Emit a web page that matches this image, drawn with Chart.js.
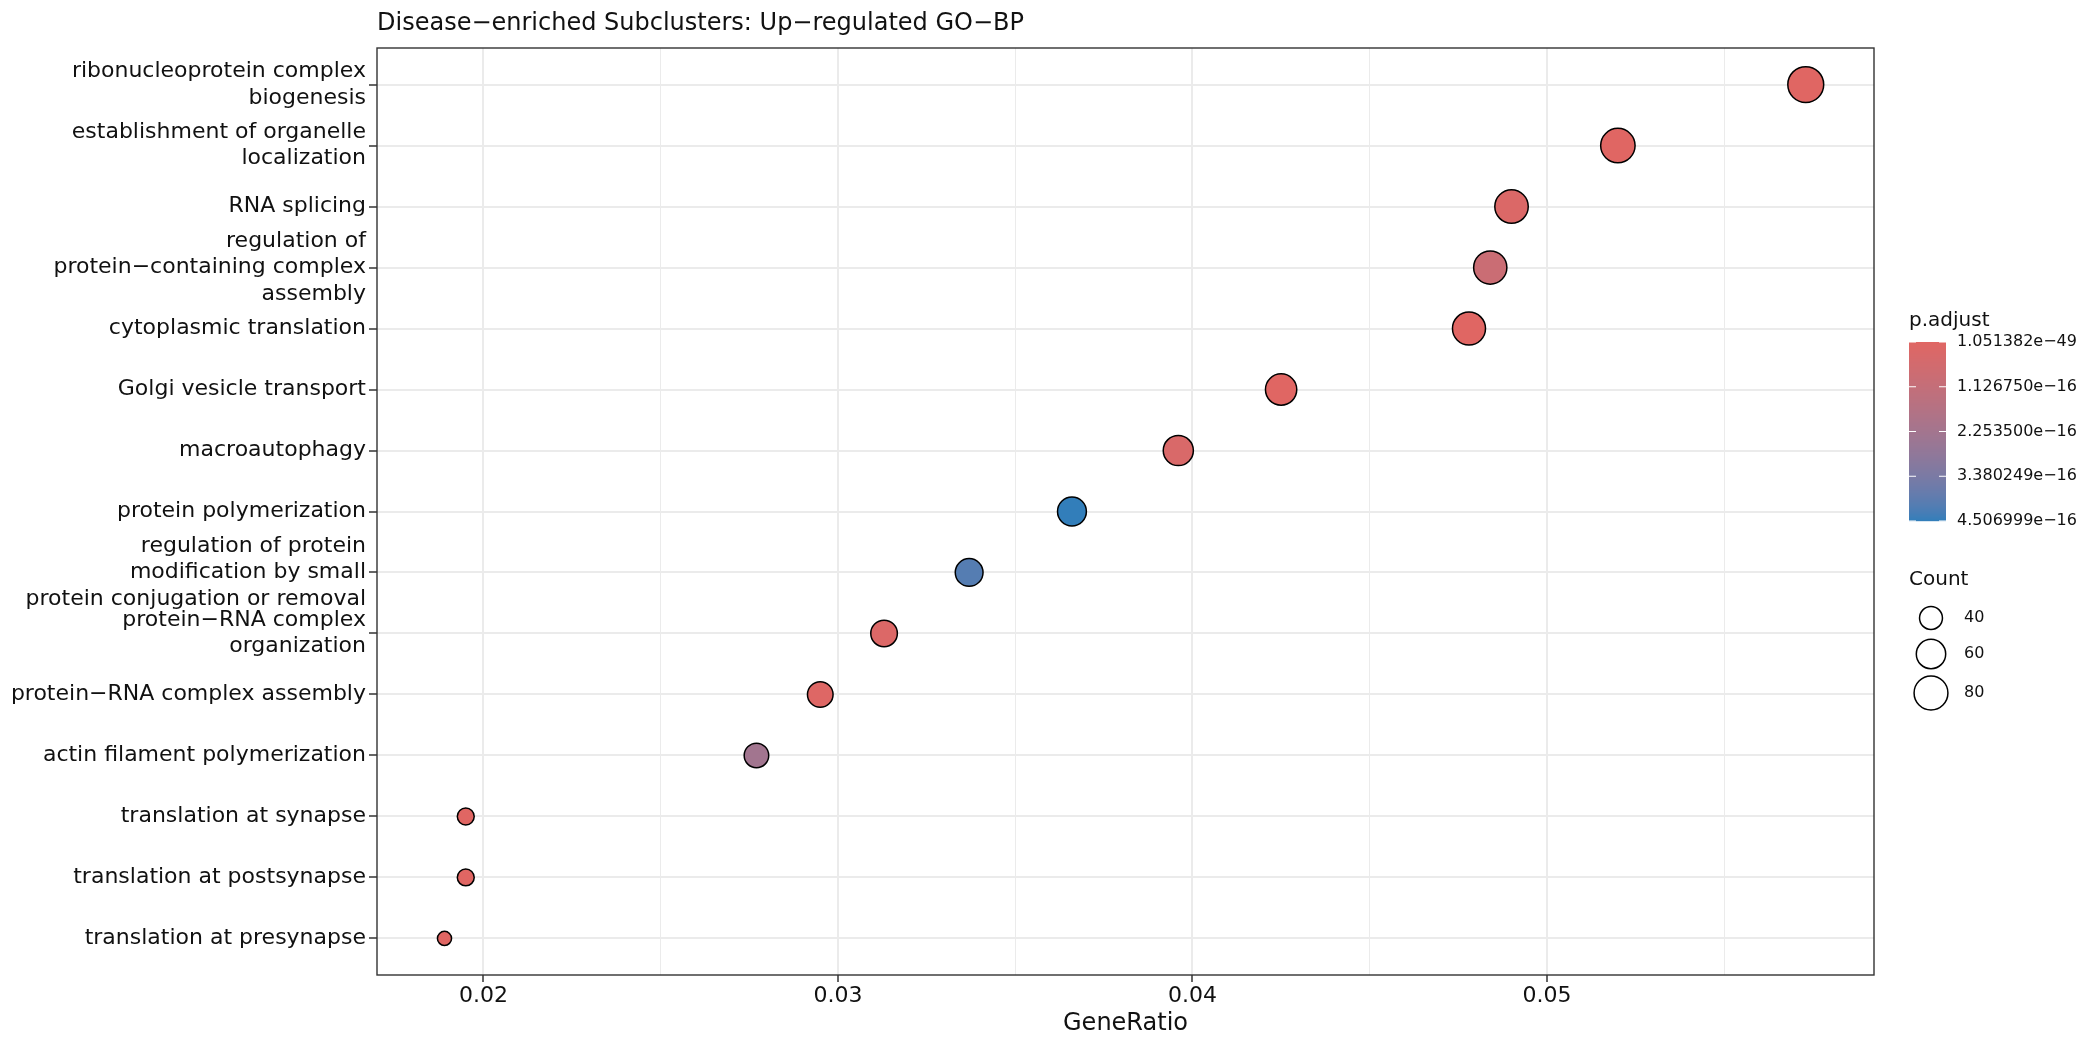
<!DOCTYPE html>
<html>
<head>
<meta charset="utf-8">
<script src="https://cdn.jsdelivr.net/npm/chart.js@4.4.1/dist/chart.umd.min.js"></script>
<style>
  html, body { margin: 0; padding: 0; background: #fff; }
  #myChart { display: block; }
</style>
</head>
<body>
<canvas id="myChart" width="2100" height="1050"></canvas>
<script>
// GO-BP terms, top to bottom
var terms = [
    'ribonucleoprotein complex\nbiogenesis',
    'establishment of organelle\nlocalization',
    'RNA splicing',
    'regulation of\nprotein\u2212containing complex\nassembly',
    'cytoplasmic translation',
    'Golgi vesicle transport',
    'macroautophagy',
    'protein polymerization',
    'regulation of protein\nmodification by small\nprotein conjugation or removal',
    'protein\u2212RNA complex\norganization',
    'protein\u2212RNA complex assembly',
    'actin filament polymerization',
    'translation at synapse',
    'translation at postsynapse',
    'translation at presynapse'
];
var geneRatio = [0.0573, 0.0520, 0.0490, 0.0484, 0.0478, 0.0425, 0.0396, 0.0366, 0.0337, 0.0313, 0.0295, 0.0277, 0.0195, 0.0195, 0.0189];
var counts = [91, 83, 78, 77, 76, 68, 63, 58, 54, 50, 47, 44, 31, 31, 30];
var pAdjust = [1.2e-45, 3.0e-24, 2.2e-17, 9.0e-17, 1.051382e-49, 1.5e-21, 3.0e-17, 4.506999e-16, 4.1e-16, 1.8e-17, 1.0e-17, 2.3e-16, 4.0e-27, 4.0e-27, 1.0e-27];

var xTicks = [0.02, 0.025, 0.03, 0.035, 0.04, 0.045, 0.05, 0.055];
var colorbarTicks = [1.051382e-49, 1.126750e-16, 2.253500e-16, 3.380249e-16, 4.506999e-16];
var colorbarLabels = ['1.051382e\u221249', '1.126750e\u221216', '2.253500e\u221216', '3.380249e\u221216', '4.506999e\u221216'];
var sizeBreaks = [40, 60, 80];

var title = 'Disease\u2212enriched Subclusters: Up\u2212regulated GO\u2212BP';
var FONT = '"DejaVu Sans", sans-serif';
var lowColor = '#e06663';
var highColor = '#327eba';

// colour scale (interpolated in Lab, like ggplot)
function hexToRgb(h) {
    return [parseInt(h.substr(1, 2), 16), parseInt(h.substr(3, 2), 16), parseInt(h.substr(5, 2), 16)];
}
function toLab(rgb) {
    var c = rgb.map(function (v) {
        v = v / 255;
        return v <= 0.04045 ? v / 12.92 : Math.pow((v + 0.055) / 1.055, 2.4);
    });
    var X = (0.4124 * c[0] + 0.3576 * c[1] + 0.1805 * c[2]) / 0.95047;
    var Y = (0.2126 * c[0] + 0.7152 * c[1] + 0.0722 * c[2]);
    var Z = (0.0193 * c[0] + 0.1192 * c[1] + 0.9505 * c[2]) / 1.08883;
    var f = function (t) { return t > 0.008856 ? Math.cbrt(t) : 7.787 * t + 16 / 116; };
    return [116 * f(Y) - 16, 500 * (f(X) - f(Y)), 200 * (f(Y) - f(Z))];
}
function fromLab(lab) {
    var fy = (lab[0] + 16) / 116, fx = fy + lab[1] / 500, fz = fy - lab[2] / 200;
    var g = function (t) { return t * t * t > 0.008856 ? t * t * t : (t - 16 / 116) / 7.787; };
    var X = g(fx) * 0.95047, Y = g(fy), Z = g(fz) * 1.08883;
    var r = 3.2406 * X - 1.5372 * Y - 0.4986 * Z;
    var gg = -0.9689 * X + 1.8758 * Y + 0.0415 * Z;
    var b = 0.0557 * X - 0.2040 * Y + 1.0570 * Z;
    return [r, gg, b].map(function (v) {
        v = v <= 0.0031308 ? 12.92 * v : 1.055 * Math.pow(v, 1 / 2.4) - 0.055;
        return Math.round(Math.max(0, Math.min(1, v)) * 255);
    });
}
var labLow = toLab(hexToRgb(lowColor));
var labHigh = toLab(hexToRgb(highColor));
var pMin = Math.min.apply(null, pAdjust);
var pMax = Math.max.apply(null, pAdjust);
function pColor(p) {
    var t = (p - pMin) / (pMax - pMin);
    var lab = [0, 1, 2].map(function (k) { return labLow[k] + t * (labHigh[k] - labLow[k]); });
    var rgb = fromLab(lab);
    return 'rgb(' + rgb.join(',') + ')';
}

// size scale (area), diameter in px
var cMin = Math.min.apply(null, counts);
var cMax = Math.max.apply(null, counts);
function countDiameter(c) {
    return 15.6 + Math.sqrt((c - cMin) / (cMax - cMin)) * 21.8;
}

var points = terms.map(function (t, i) { return { x: geneRatio[i], y: i }; });

var extras = {
    id: 'extras',
    afterDraw: function (chart) {
        var ctx = chart.ctx;
        var a = chart.chartArea;
        ctx.save();
        // panel border
        ctx.strokeStyle = '#333333';
        ctx.lineWidth = 1.4;
        ctx.strokeRect(a.left, a.top, a.right - a.left, a.bottom - a.top);
        // title
        ctx.fillStyle = '#111';
        ctx.font = '24px ' + FONT;
        ctx.textAlign = 'left';
        ctx.textBaseline = 'alphabetic';
        ctx.fillText(title, a.left, 29.5);

        // p.adjust colourbar
        var bx = 1909, bw = 37, by = 342, bh = 179;
        ctx.font = '20px ' + FONT;
        ctx.fillText('p.adjust', bx, 326);
        for (var k = 0; k < bh; k++) {
            ctx.fillStyle = pColor(pMin + (k + 0.5) / bh * (pMax - pMin));
            ctx.fillRect(bx, by + k, bw, 1.2);
        }
        ctx.font = '16px ' + FONT;
        ctx.textBaseline = 'middle';
        colorbarTicks.forEach(function (v, i) {
            var y = by + (v - pMin) / (pMax - pMin) * bh;
            ctx.strokeStyle = '#ffffff';
            ctx.lineWidth = 1;
            ctx.beginPath();
            ctx.moveTo(bx, y); ctx.lineTo(bx + 7, y);
            ctx.moveTo(bx + bw - 7, y); ctx.lineTo(bx + bw, y);
            ctx.stroke();
            ctx.fillStyle = '#111';
            ctx.fillText(colorbarLabels[i], 1957, y);
        });

        // Count legend
        ctx.textBaseline = 'alphabetic';
        ctx.font = '20px ' + FONT;
        ctx.fillText('Count', bx, 585);
        var ys = [618, 654, 693];
        ctx.font = '16px ' + FONT;
        ctx.textBaseline = 'middle';
        sizeBreaks.forEach(function (c, i) {
            ctx.beginPath();
            ctx.arc(1931, ys[i], countDiameter(c) / 2 - 0.75, 0, Math.PI * 2);
            ctx.strokeStyle = '#000';
            ctx.lineWidth = 1.5;
            ctx.stroke();
            ctx.fillStyle = '#111';
            ctx.fillText(String(c), 1964, ys[i]);
        });
        ctx.restore();
    }
};

new Chart('myChart', {
    type: 'scatter',
    data: {
        datasets: [{
            data: points,
            pointBackgroundColor: pAdjust.map(pColor),
            pointBorderColor: '#000000',
            pointBorderWidth: 1.5,
            pointRadius: counts.map(function (c) { return countDiameter(c) / 2 - 0.75; }),
            pointHoverRadius: counts.map(function (c) { return countDiameter(c) / 2 - 0.75; })
        }]
    },
    options: {
        responsive: false,
        animation: false,
        devicePixelRatio: 1,
        layout: { padding: { top: 48, right: 226, left: 0, bottom: 0 } },
        plugins: {
            legend: { display: false },
            title: { display: false },
            tooltip: { enabled: false }
        },
        scales: {
            x: {
                type: 'linear',
                min: 0.016996,
                max: 0.059225,
                afterFit: function (s) { s.height = 75; },
                afterBuildTicks: function (s) {
                    s.ticks = xTicks.map(function (v) { return { value: v }; });
                },
                border: { display: false },
                grid: {
                    color: '#EBEBEB',
                    lineWidth: function (c) { return c.index % 2 === 0 ? 2 : 1; },
                    tickColor: function (c) { return c.index % 2 === 0 ? '#333333' : 'rgba(0,0,0,0)'; },
                    tickLength: 7,
                    tickWidth: 1.5
                },
                ticks: {
                    autoSkip: false,
                    maxRotation: 0,
                    padding: 1,
                    color: '#111',
                    font: { family: FONT, size: 22 },
                    callback: function (v, i) { return i % 2 === 0 ? v.toFixed(2) : ''; }
                },
                title: {
                    display: true,
                    text: 'GeneRatio',
                    color: '#111',
                    font: { family: FONT, size: 24, lineHeight: 1.2 },
                    padding: { top: 0, bottom: 11.6 }
                }
            },
            y: {
                type: 'linear',
                reverse: true,
                min: -0.6,
                max: 14.6,
                afterFit: function (s) { s.width = 377; },
                afterBuildTicks: function (s) {
                    s.ticks = terms.map(function (t, i) { return { value: i }; });
                },
                border: { display: false },
                grid: {
                    color: '#EBEBEB',
                    lineWidth: 2,
                    tickColor: '#333333',
                    tickLength: 8,
                    tickWidth: 1.5
                },
                ticks: {
                    autoSkip: false,
                    padding: 3,
                    color: '#111',
                    font: { family: FONT, size: 22, lineHeight: 1.2 },
                    callback: function (v) { return terms[v].split('\n'); }
                }
            }
        }
    },
    plugins: [extras]
});
</script>
</body>
</html>
